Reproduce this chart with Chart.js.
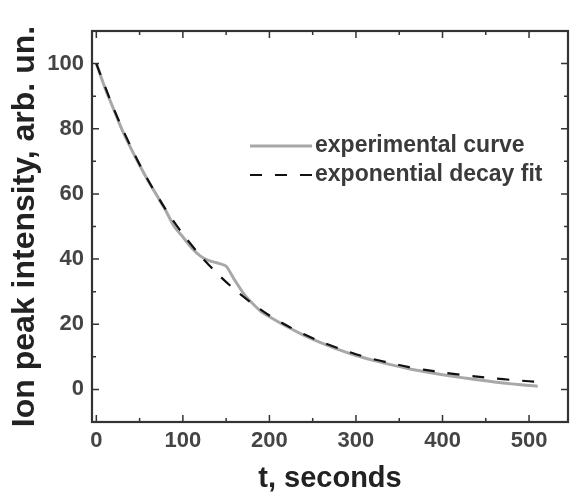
<!DOCTYPE html>
<html>
<head>
<meta charset="utf-8">
<script src="https://cdn.jsdelivr.net/npm/chart.js@4.4.1/dist/chart.umd.min.js"></script>
<style>
  html, body { margin: 0; padding: 0; background: #fff; }
  #wrap { width: 573px; height: 493px; }
</style>
</head>
<body>
<div id="wrap"><canvas id="myChart" width="573" height="493"></canvas></div>
<script>
// experimental curve
const expTime = [0, 10, 20, 30, 40, 50, 60, 70, 80, 90, 100, 110, 120, 130, 140, 150, 160, 170, 180, 190,
  200, 220, 240, 260, 280, 300, 320, 340, 360, 380, 400, 420, 440, 460, 480, 500, 510]
const expValues = [100, 92.5, 86, 79.5, 74, 68.8, 64, 59.5, 55, 50, 46.8, 43.5, 41, 39.5, 38.8, 37.8, 33.5, 29.5, 26.5, 24,
  22.3, 19.3, 16.6, 14.3, 12.2, 10.4, 8.9, 7.6, 6.4, 5.4, 4.5, 3.7, 3.0, 2.3, 1.7, 1.2, 1.0]

// exponential decay fit
const fitTime = [0, 20, 40, 60, 80, 100, 120, 140, 160, 180, 200, 220, 240, 260, 280, 300, 320, 340,
  360, 380, 400, 420, 440, 460, 480, 500, 510]
const fitValues = [100, 86.2, 74.4, 64.1, 55.3, 47.7, 41.1, 35.5, 30.6, 26.4, 22.7, 19.6, 16.9, 14.6, 12.6, 10.8, 9.3, 8.1,
  6.9, 6.0, 5.2, 4.5, 3.9, 3.4, 2.9, 2.5, 2.3]

const seriesNames = ['experimental curve', 'exponential decay fit']

const xTicks = [0, 100, 200, 300, 400, 500]
const xMinorTicks = [50, 150, 250, 350, 450]
const yTicks = [0, 20, 40, 60, 80, 100]
const yMinorTicks = [10, 30, 50, 70, 90]

const xTitle = 't, seconds'
const yTitle = 'Ion peak intensity, arb. un.'

const FONT = "'Liberation Sans', Arial, sans-serif"

// frame + inward ticks on all four sides
const framePlugin = {
  id: 'frame',
  afterDatasetsDraw(chart) {
    const { ctx, chartArea: a, scales } = chart
    ctx.save()
    ctx.strokeStyle = '#333'
    ctx.lineWidth = 1.5
    const tick = (vals, len) => {
      vals.forEach(v => {
        const px = scales.x.getPixelForValue(v)
        ctx.beginPath()
        ctx.moveTo(px, a.bottom); ctx.lineTo(px, a.bottom - len)
        ctx.moveTo(px, a.top); ctx.lineTo(px, a.top + len)
        ctx.stroke()
      })
    }
    const tickY = (vals, len) => {
      vals.forEach(v => {
        const py = scales.y.getPixelForValue(v)
        ctx.beginPath()
        ctx.moveTo(a.left, py); ctx.lineTo(a.left + len, py)
        ctx.moveTo(a.right, py); ctx.lineTo(a.right - len, py)
        ctx.stroke()
      })
    }
    tick(xTicks, 7); tick(xMinorTicks, 4)
    tickY(yTicks, 7); tickY(yMinorTicks, 4)
    ctx.lineWidth = 2.2
    ctx.strokeRect(a.left, a.top, a.right - a.left, a.bottom - a.top)
    ctx.restore()
  }
}

// legend inside the plot area
const legendPlugin = {
  id: 'innerLegend',
  afterDatasetsDraw(chart) {
    const { ctx } = chart
    ctx.save()
    ctx.font = 'bold 23px ' + FONT
    ctx.textBaseline = 'middle'
    chart.data.datasets.forEach((ds, i) => {
      const y = 146 + i * 29
      ctx.beginPath()
      ctx.strokeStyle = ds.borderColor
      ctx.lineWidth = ds.borderWidth
      ctx.setLineDash(ds.borderDash || [])
      ctx.moveTo(250, y); ctx.lineTo(312, y)
      ctx.stroke()
      ctx.setLineDash([])
      ctx.fillStyle = '#3a3a3a'
      ctx.fillText(ds.label, 315, y)
    })
    ctx.restore()
  }
}

new Chart(document.querySelector('#myChart'), {
  type: 'line',
  data: {
    datasets: [{
      label: seriesNames[0],
      data: expTime.map((t, i) => ({ x: t, y: expValues[i] })),
      borderColor: '#a8a8a8',
      borderWidth: 3,
      pointRadius: 0,
      tension: 0.2,
      order: 2
    }, {
      label: seriesNames[1],
      data: fitTime.map((t, i) => ({ x: t, y: fitValues[i] })),
      borderColor: '#111',
      borderWidth: 2.2,
      borderDash: [12, 13],
      pointRadius: 0,
      tension: 0.3,
      order: 1
    }]
  },
  options: {
    responsive: false,
    animation: false,
    layout: { padding: { left: 0, right: 5, top: 31, bottom: 0 } },
    plugins: { legend: { display: false }, tooltip: { enabled: false } },
    scales: {
      x: {
        type: 'linear',
        min: -5,
        max: 545,
        afterBuildTicks: s => { s.ticks = xTicks.map(v => ({ value: v })) },
        afterFit: s => { s.height = 71 },
        grid: { display: false, drawTicks: false },
        border: { display: false },
        ticks: { color: '#444', font: { family: FONT, size: 22, weight: 'bold' }, padding: 6, maxRotation: 0 },
        title: {
          display: true, text: xTitle, color: '#222',
          font: { family: FONT, size: 29, weight: 'bold', lineHeight: 1 },
          padding: 0
        }
      },
      y: {
        type: 'linear',
        min: -10,
        max: 110,
        afterBuildTicks: s => { s.ticks = yTicks.map(v => ({ value: v })) },
        afterFit: s => { s.width = 92 },
        grid: { display: false, drawTicks: false },
        border: { display: false },
        ticks: { color: '#444', font: { family: FONT, size: 22, weight: 'bold' }, padding: 8 },
        title: {
          display: true, text: yTitle, color: '#222',
          font: { family: FONT, size: 32, weight: 'bold', lineHeight: 1 },
          padding: { top: 9, bottom: 0 }
        }
      }
    }
  },
  plugins: [framePlugin, legendPlugin]
})
</script>
</body>
</html>
